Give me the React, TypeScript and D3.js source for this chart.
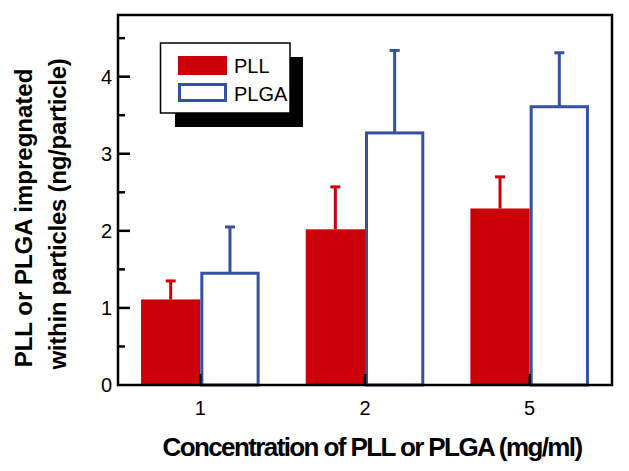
import React from "react";
import * as d3 from "d3";

const categories = ["1", "2", "5"];
const seriesNames = ["PLL", "PLGA"];
const pllValues = [1.11, 2.02, 2.29];
const pllErrors = [0.24, 0.55, 0.41];
const plgaValues = [1.45, 3.27, 3.61];
const plgaErrors = [0.6, 1.07, 0.7];
const yMajorTicks = [0, 1, 2, 3, 4];
const yMinorTicks = [0.5, 1.5, 2.5, 3.5, 4.5];

const W = 629;
const H = 471;
const M = { left: 118, right: 612, top: 15, bottom: 385 };
const RED = "#cc0008";
const BLUE = "#3451a3";
const FONT = "'Liberation Sans', Arial, Helvetica, sans-serif";

export default function App() {
  const y = d3.scaleLinear().domain([0, 4.8]).range([M.bottom, M.top]);
  const x = d3
    .scaleBand<string>()
    .domain(categories)
    .range([M.left, M.right])
    .paddingInner(0.28)
    .paddingOuter(0.14);
  const xs = d3.scaleBand<string>().domain(seriesNames).range([0, x.bandwidth()]).padding(0);
  const center = (c: string) => (x(c) as number) + x.bandwidth() / 2;
  const bw = xs.bandwidth();
  const sw = 3;
  const capW = 10;

  return (
    <svg
      width={W}
      height={H}
      style={{ position: "absolute", left: 0, top: 0, display: "block", background: "#fff" }}
      fontFamily={FONT}
    >
      <rect x={0} y={0} width={W} height={H} fill="#fff" />
      {/* PLL bars */}
      {categories.map((c, i) => {
        const x0 = (x(c) as number) + (xs("PLL") as number);
        const cx = x0 + bw / 2;
        return (
          <g key={"pll" + c}>
            <line x1={cx} x2={cx} y1={y(pllValues[i])} y2={y(pllValues[i] + pllErrors[i])} stroke={RED} strokeWidth={sw} />
            <line x1={cx - capW / 2} x2={cx + capW / 2} y1={y(pllValues[i] + pllErrors[i])} y2={y(pllValues[i] + pllErrors[i])} stroke={RED} strokeWidth={sw} />
            <rect x={x0} y={y(pllValues[i])} width={bw} height={y(0) - y(pllValues[i])} fill={RED} />
          </g>
        );
      })}
      {/* PLGA bars */}
      {categories.map((c, i) => {
        const x0 = (x(c) as number) + (xs("PLGA") as number);
        const cx = x0 + bw / 2;
        return (
          <g key={"plga" + c}>
            <line x1={cx} x2={cx} y1={y(plgaValues[i])} y2={y(plgaValues[i] + plgaErrors[i])} stroke={BLUE} strokeWidth={sw} />
            <line x1={cx - capW / 2} x2={cx + capW / 2} y1={y(plgaValues[i] + plgaErrors[i])} y2={y(plgaValues[i] + plgaErrors[i])} stroke={BLUE} strokeWidth={sw} />
            <rect
              x={x0 + sw / 2}
              y={y(plgaValues[i])}
              width={bw - sw}
              height={y(0) - y(plgaValues[i])}
              fill="#fff"
              stroke={BLUE}
              strokeWidth={sw}
            />
          </g>
        );
      })}
      {/* frame */}
      <rect
        x={M.left}
        y={M.top}
        width={M.right - M.left}
        height={M.bottom - M.top}
        fill="none"
        stroke="#000"
        strokeWidth={2.5}
      />
      {/* y ticks */}
      {yMajorTicks.map((t) => (
        <g key={"ym" + t}>
          {t !== 0 && <line x1={M.left} x2={M.left + 12} y1={y(t)} y2={y(t)} stroke="#000" strokeWidth={2.5} />}
          <text x={112} y={y(t) + 7} textAnchor="end" fontSize={20} fill="#000">
            {t}
          </text>
        </g>
      ))}
      {yMinorTicks.map((t) => (
        <line key={"yn" + t} x1={M.left} x2={M.left + 7} y1={y(t)} y2={y(t)} stroke="#000" strokeWidth={2.5} />
      ))}
      {/* x ticks */}
      {categories.map((c) => (
        <g key={"xt" + c}>
          <line x1={center(c)} x2={center(c)} y1={M.bottom} y2={M.bottom - 11} stroke="#000" strokeWidth={2.5} />
          <text x={center(c)} y={415} textAnchor="middle" fontSize={20} fill="#000">
            {c}
          </text>
        </g>
      ))}
      {/* axis titles */}
      <text
        x={372}
        y={456}
        textAnchor="middle"
        fontSize={26}
        fontWeight="bold"
        fill="#000"
        letterSpacing={-1.6}
      >
        Concentration of PLL or PLGA (mg/ml)
      </text>
      <text
        transform="translate(32,218) rotate(-90)"
        textAnchor="middle"
        fontSize={24}
        fontWeight="bold"
        fill="#000"
      >
        PLL or PLGA impregnated
      </text>
      <text
        transform="translate(66,214) rotate(-90)"
        textAnchor="middle"
        fontSize={24}
        fontWeight="bold"
        fill="#000"
        letterSpacing={-0.25}
      >
        within particles (ng/particle)
      </text>
      {/* legend */}
      <rect x={175} y={57} width={128} height={70} fill="#000" />
      <rect x={160.5} y={43} width={129.5} height={70} fill="#fff" stroke="#000" strokeWidth={1.5} />
      <rect x={178} y={56} width={49} height={19} fill={RED} />
      <rect x={179.5} y={84.5} width={46} height={16} fill="#fff" stroke={BLUE} strokeWidth={3} />
      <text x={234} y={73} fontSize={20} fill="#000">
        {seriesNames[0]}
      </text>
      <text x={234} y={101} fontSize={20} fill="#000">
        {seriesNames[1]}
      </text>
    </svg>
  );
}
